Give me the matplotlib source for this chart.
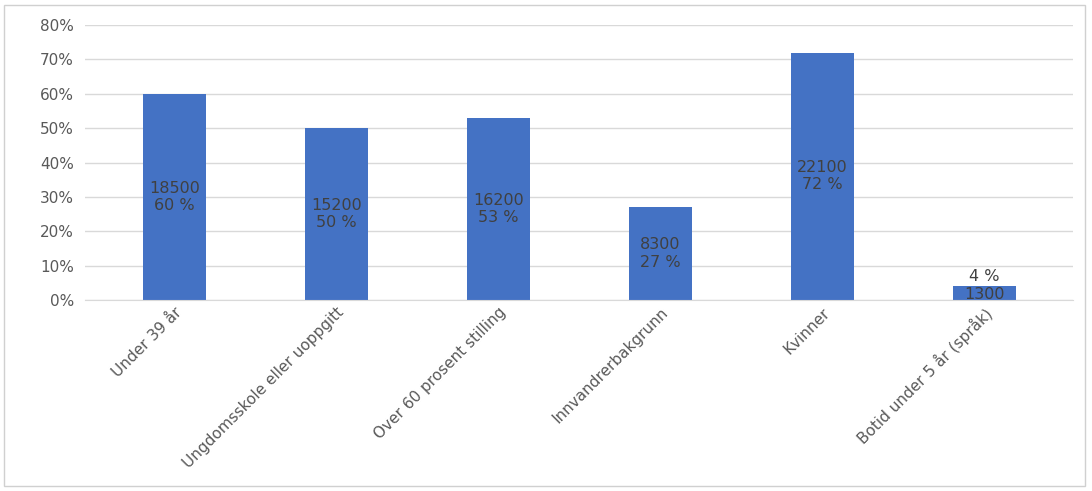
import matplotlib.pyplot as plt
from matplotlib.patches import Rectangle
from matplotlib.ticker import PercentFormatter

categories = ["Under 39 år", "Ungdomsskole eller uoppgitt", "Over 60 prosent stilling",
              "Innvandrerbakgrunn", "Kvinner", "Botid under 5 år (språk)"]
shares = [0.60, 0.50, 0.53, 0.27, 0.72, 0.04]
counts = [18500, 15200, 16200, 8300, 22100, 1300]

fig = plt.figure(figsize=(10.92, 4.91), dpi=100)
ax = fig.add_axes([0.078, 0.389, 0.905, 0.56])
fig.patches.append(Rectangle((0.004, 0.01), 0.99, 0.98, transform=fig.transFigure,
                             fill=False, edgecolor="#d0d0d0", linewidth=1))

x = range(len(categories))
ax.bar(x, shares, width=0.39, color="#4472c4", zorder=2)
for i, (s, c) in enumerate(zip(shares, counts)):
    if s > 0.1:
        ax.text(i, s / 2, f"{c}\n{round(s*100)} %", ha="center", va="center",
                fontsize=11.5, color="#404040", linespacing=1.2, zorder=3)
    else:
        ax.text(i, s + 0.008, f"{round(s*100)} %", ha="center", va="bottom",
                fontsize=11.5, color="#404040", zorder=3)
        ax.text(i, s / 2 - 0.005, f"{c}", ha="center", va="center",
                fontsize=11.5, color="#404040", zorder=3)

ax.set_xlim(-0.55, 5.55)
ax.set_ylim(0, 0.8)
ax.set_yticks([i / 10 for i in range(9)])
ax.yaxis.set_major_formatter(PercentFormatter(1.0, decimals=0))
ax.grid(axis="y", color="#d9d9d9", linewidth=1, zorder=0)
ax.set_xticks(list(x))
ax.set_xticklabels(categories, rotation=45, ha="right", rotation_mode="anchor")
ax.tick_params(axis="both", length=0, labelsize=11, labelcolor="#595959")
ax.tick_params(axis="y", pad=8)
for sp in ["top", "right", "left"]:
    ax.spines[sp].set_visible(False)
ax.spines["bottom"].set_color("#d9d9d9")

fig.savefig("out.png", dpi=100)
